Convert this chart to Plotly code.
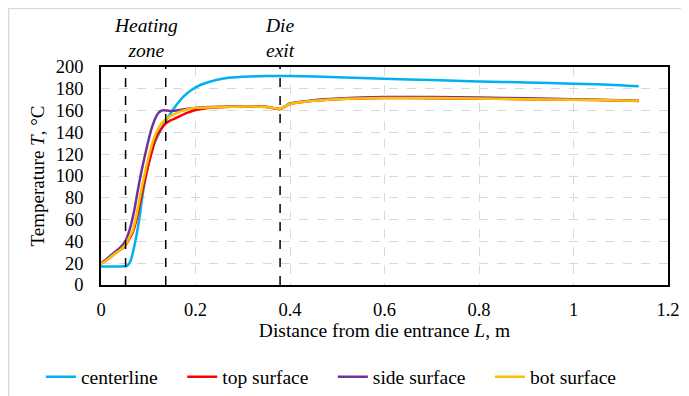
import plotly.graph_objects as go

# ---------------- data ----------------
x_center = [0, 0.02, 0.04, 0.05, 0.055, 0.06, 0.064, 0.0745, 0.0815, 0.0885, 0.099, 0.113,
            0.125, 0.138, 0.156, 0.175, 0.19, 0.21, 0.23, 0.26, 0.3, 0.35, 0.4, 0.5, 0.6,
            0.7, 0.8, 0.9, 1.0, 1.1, 1.138]
t_center = [17, 17, 17, 17.1, 17.6, 20, 24, 44, 62, 84, 108, 130,
            141, 151, 163, 173, 178.5, 183.5, 186.5, 189.5, 191, 191.7, 191.7, 190.7, 189.3,
            188, 186.8, 185.8, 184.7, 183.3, 182.3]

x_top = [0, 0.01, 0.02, 0.03, 0.04, 0.05, 0.058, 0.067, 0.074, 0.081, 0.088, 0.099, 0.108,
         0.117, 0.127, 0.137, 0.147, 0.156, 0.167, 0.177, 0.188, 0.2, 0.22, 0.25, 0.3, 0.35,
         0.379, 0.4, 0.45, 0.5, 0.6, 0.7, 0.8, 0.9, 1.0, 1.1, 1.138]
t_top = [19.5, 22, 25.5, 29, 32, 35.5, 41, 48, 58, 72, 87, 108, 123,
         135.7, 143, 148, 151, 152.6, 155, 157, 158.8, 160.5, 162, 163, 163.7, 163.2,
         161.5, 166, 169, 170.5, 171.5, 171.3, 171, 170.5, 170, 169.2, 168.8]

x_side = [0, 0.01, 0.02, 0.03, 0.04, 0.05, 0.057, 0.064, 0.071, 0.078, 0.085, 0.092, 0.099,
          0.106, 0.113, 0.12, 0.126, 0.131, 0.14, 0.15, 0.16, 0.18, 0.2, 0.25, 0.3, 0.35,
          0.379, 0.4, 0.45, 0.5, 0.6, 0.7, 0.8, 0.9, 1.0, 1.1, 1.138]
t_side = [20, 23, 27, 30.5, 34, 39, 46, 56, 70, 87, 103, 117, 130,
          142, 151, 157, 159.5, 160.2, 160, 159.7, 160, 161.5, 162.5, 163.5, 164, 163.5,
          161.5, 166.5, 169.5, 171, 172.5, 172.5, 172, 171.3, 170.5, 169.5, 169]

x_bot = [0, 0.01, 0.02, 0.03, 0.04, 0.05, 0.058, 0.067, 0.074, 0.081, 0.088, 0.0956, 0.104,
         0.113, 0.123, 0.134, 0.145, 0.156, 0.17, 0.185, 0.2, 0.25, 0.3, 0.35, 0.379, 0.4,
         0.45, 0.5, 0.6, 0.7, 0.8, 0.9, 1.0, 1.1, 1.138]
t_bot = [19.3, 22, 25.5, 29, 32, 36, 42, 50, 62, 77.5, 93, 108, 123,
         135.7, 145, 151, 154.5, 157, 159.5, 161.3, 162.5, 163.3, 163.8, 163.3, 161.7, 166,
         169, 170.5, 171.5, 171.5, 171, 170.5, 170, 169.2, 169]

series_names = ["centerline", "top surface", "side surface", "bot surface"]
series_colors = ["#00b0f0", "#ff0000", "#7030a0", "#ffc000"]

zone_lines = [0.052, 0.137, 0.379]
zone_labels = [((0.052 + 0.137) / 2, "<i>Heating</i><br><i>zone</i>"),
               (0.379, "<i>Die</i><br><i>exit</i>")]

x_ticks = [0, 0.2, 0.4, 0.6, 0.8, 1, 1.2]
x_ticktext = ["0", "0.2", "0.4", "0.6", "0.8", "1", "1.2"]
y_ticks = list(range(0, 201, 20))

# ---------------- figure ----------------
FONT = "Liberation Serif"
PAD = "\u00a0" * 4  # extra spacing between legend entries
fig = go.Figure()
n = len(series_names)
for i, (xs, ts, name, col) in enumerate(zip([x_center, x_top, x_side, x_bot],
                                            [t_center, t_top, t_side, t_bot],
                                            series_names, series_colors)):
    label = name + (PAD if i < n - 1 else "")
    fig.add_trace(go.Scatter(x=xs, y=ts, mode="lines", name=label,
                             line=dict(color=col, width=2.5, shape="spline", smoothing=0.7)))

for xv in zone_lines:
    fig.add_shape(type="line", xref="x", yref="paper", x0=xv, x1=xv, y0=0, y1=1,
                  line=dict(color="black", width=1.5, dash="dash"))

for xv, txt in zone_labels:
    fig.add_annotation(x=xv, xref="x", y=1, yref="paper", yanchor="bottom", yshift=4,
                       text=txt, showarrow=False, font=dict(family=FONT, size=19.5, color="black"))

# outer chart border (light gray)
fig.add_shape(type="rect", xref="paper", yref="paper", x0=-0.163, x1=2, y0=-2, y1=1.268,
              line=dict(color="#d9d9d9", width=1.5), layer="below")

fig.update_layout(
    width=681, height=388,
    margin=dict(l=93, r=21, t=59, b=111, autoexpand=False),
    paper_bgcolor="white", plot_bgcolor="white",
    font=dict(family=FONT, size=18.5, color="black"),
    showlegend=True,
    legend=dict(orientation="h", x=-0.106, xanchor="left", y=-0.422, yanchor="middle",
                font=dict(family=FONT, size=19.5, color="black"), bgcolor="rgba(0,0,0,0)"),
    xaxis=dict(range=[0, 1.2], tickvals=x_ticks, ticktext=x_ticktext,
               showgrid=True, gridcolor="#d9d9d9", griddash="dash", gridwidth=1,
               showline=True, linecolor="black", linewidth=1.5, mirror=True,
               ticks="outside", ticklen=7, tickcolor="rgba(0,0,0,0)",
               zeroline=False, tickfont=dict(size=18.5), automargin=False,
               title=dict(text="Distance from die entrance <i>L</i>, m", font=dict(size=19.5), standoff=4)),
    yaxis=dict(range=[0, 200], tickvals=y_ticks,
               showgrid=True, gridcolor="#d9d9d9", griddash="dash", gridwidth=1,
               showline=True, linecolor="black", linewidth=1.5, mirror=True,
               ticks="outside", ticklen=12, tickcolor="rgba(0,0,0,0)",
               zeroline=False, tickfont=dict(size=18.5), automargin=False,
               title=dict(text="Temperature <i>T</i>, °C", font=dict(size=19), standoff=6)),
)

fig.write_html("out.html")
